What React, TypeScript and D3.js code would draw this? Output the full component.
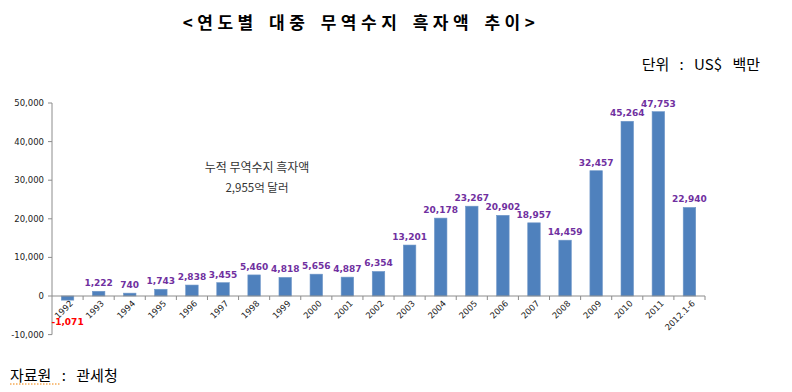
import React from "react";
import * as d3 from "d3";

const years = ["1992", "1993", "1994", "1995", "1996", "1997", "1998", "1999", "2000", "2001", "2002", "2003", "2004", "2005", "2006", "2007", "2008", "2009", "2010", "2011", "2012.1-6"];
const surplus = [-1071, 1222, 740, 1743, 2838, 3455, 5460, 4818, 5656, 4887, 6354, 13201, 20178, 23267, 20902, 18957, 14459, 32457, 45264, 47753, 22940];
const yTicks = [-10000, 0, 10000, 20000, 30000, 40000, 50000];

const title = "<연도별 대중 무역수지 흑자액 추이>";
const unitText = "단위 : US$ 백만";
const sourceText = "자료원 : 관세청";
const noteLines = ["누적 무역수지 흑자액", "2,955억 달러"];

export default function App() {
  const W = 792, H = 392;
  const left = 52, right = 705;
  const x = d3.scaleBand().domain(years).range([left, right]).padding(0);
  const y = d3.scaleLinear().domain([-10000, 50000]).range([334.6, 103]);
  const barW = 12.5;
  // hyphen minus like the original, not d3's U+2212
  const fmt = (v: number) => d3.format(",")(v).replace("\u2212", "-");
  const axisColor = "#8c8c8c";
  const tickFont = "Tahoma, 'DejaVu Sans', sans-serif";
  const kr = "'Noto Sans CJK KR', sans-serif";

  return (
    <svg width={W} height={H} style={{ position: "absolute", left: 0, top: 0, background: "#fff" }}>
      <text x={361} y={29} textAnchor="middle" fontSize={17} fontWeight="bold" letterSpacing={4.5} wordSpacing={3}
        fontFamily={kr} fill="#000">{title}</text>
      <text x={760} y={70} textAnchor="end" fontSize={15} wordSpacing={7} fontFamily={kr} fill="#000">{unitText}</text>

      {/* y axis */}
      <line x1={left} x2={left} y1={y(50000)} y2={y(-10000)} stroke={axisColor} />
      {yTicks.map(t => (
        <g key={t}>
          <line x1={left - 4} x2={left} y1={y(t)} y2={y(t)} stroke={axisColor} />
          <text x={44} y={y(t) + 3} textAnchor="end" fontSize={8.5} fontFamily={tickFont} fill="#222">{fmt(t)}</text>
        </g>
      ))}

      {/* bars */}
      {years.map((yr, i) => {
        const v = surplus[i];
        const cx = (x(yr) as number) + x.bandwidth() / 2;
        return (
          <rect key={yr} x={cx - barW / 2} y={Math.min(y(v), y(0))} width={barW}
            height={Math.abs(y(v) - y(0))} fill="#4f81bd" stroke="#6f97c8" strokeWidth={0.6} />
        );
      })}

      {/* x axis */}
      <line x1={left} x2={right} y1={y(0)} y2={y(0)} stroke={axisColor} />
      {years.map(yr => (
        <line key={yr} x1={(x(yr) as number) + x.bandwidth()} x2={(x(yr) as number) + x.bandwidth()}
          y1={y(0)} y2={y(0) + 4} stroke={axisColor} />
      ))}
      {years.map(yr => {
        const cx = (x(yr) as number) + x.bandwidth() / 2;
        return (
          <text key={yr} transform={`translate(${cx + 6},${y(0) + 8}) rotate(-45)`} textAnchor="end"
            fontSize={8.5} fontFamily={tickFont} fill="#222">{yr}</text>
        );
      })}

      {/* value labels */}
      {years.map((yr, i) => {
        const v = surplus[i];
        const cx = (x(yr) as number) + x.bandwidth() / 2;
        return v >= 0 ? (
          <text key={yr} x={cx} y={y(v) - 5} textAnchor="middle" fontSize={9} fontWeight="bold"
            fontFamily={tickFont} fill="#7030a0">{fmt(v)}</text>
        ) : (
          <text key={yr} x={cx} y={y(v) + 25} textAnchor="middle" fontSize={9} fontWeight="bold"
            fontFamily={tickFont} fill="#ff0000">{fmt(v)}</text>
        );
      })}

      {noteLines.map((s, i) => (
        <text key={s} x={257} y={172 + i * 20} textAnchor="middle" fontSize={i === 0 ? 12 : 11.5}
          fontFamily={kr} fill="#333">{s}</text>
      ))}

      <text x={10} y={381} fontSize={15} wordSpacing={7} fontFamily={kr} fill="#000">{sourceText}</text>
      <line x1={10} x2={60} y1={384} y2={384} stroke="#f08000" strokeWidth={1} strokeDasharray="1.5,1.5" />
    </svg>
  );
}
